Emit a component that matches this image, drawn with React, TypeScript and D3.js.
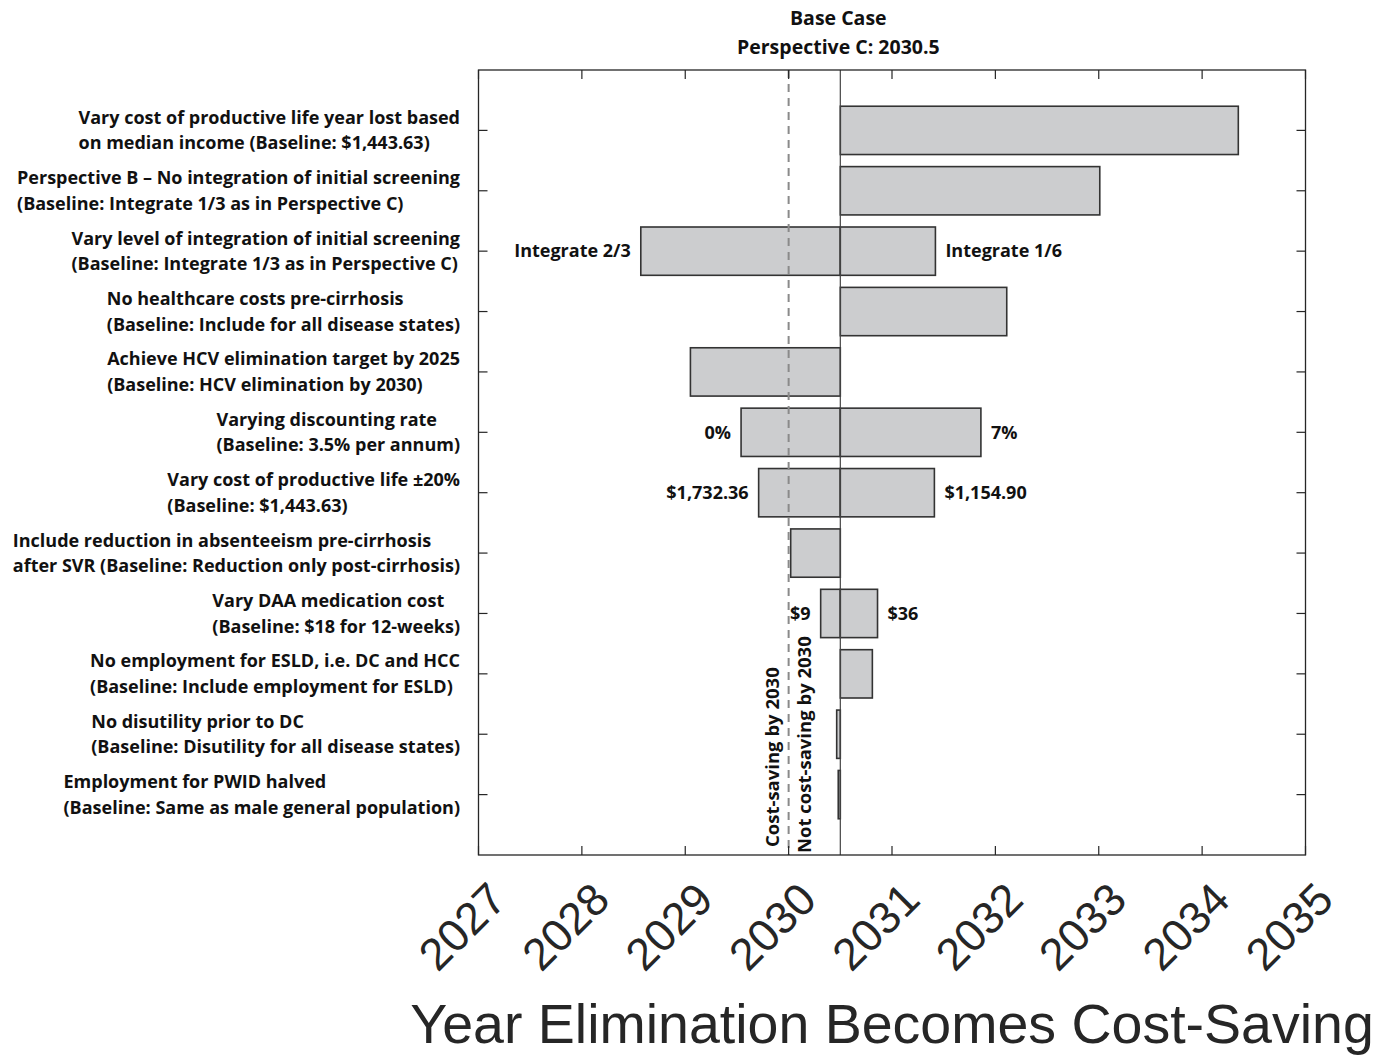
import React, { useEffect, useRef } from "react";
import * as d3 from "d3";

const categories: string[][] = [
  ["Vary cost of productive life year lost based", "on median income (Baseline: $1,443.63)"],
  ["Perspective B \u2013 No integration of initial screening", "(Baseline: Integrate 1/3 as in Perspective C)"],
  ["Vary level of integration of initial screening", "(Baseline: Integrate 1/3 as in Perspective C)"],
  ["No healthcare costs pre-cirrhosis", "(Baseline: Include for all disease states)"],
  ["Achieve HCV elimination target by 2025", "(Baseline: HCV elimination by 2030)"],
  ["Varying discounting rate", "(Baseline: 3.5% per annum)"],
  ["Vary cost of productive life \u00b120%", "(Baseline: $1,443.63)"],
  ["Include reduction in absenteeism pre-cirrhosis", "after SVR (Baseline: Reduction only post-cirrhosis)"],
  ["Vary DAA medication cost", "(Baseline: $18 for 12-weeks)"],
  ["No employment for ESLD, i.e. DC and HCC", "(Baseline: Include employment for ESLD)"],
  ["No disutility prior to DC", "(Baseline: Disutility for all disease states)"],
  ["Employment for PWID halved", "(Baseline: Same as male general population)"],
];

const baseCase = 2030.5;
const costSavingYear = 2030;
const lowValues: (number | null)[] = [null, null, 2028.57, null, 2029.05, 2029.54, 2029.71, 2030.02, 2030.31, null, 2030.465, 2030.48];
const highValues: (number | null)[] = [2034.35, 2033.01, 2031.42, 2032.11, null, 2031.86, 2031.41, null, 2030.86, 2030.81, null, null];
const lowLabels = ["", "", "Integrate 2/3", "", "", "0%", "$1,732.36", "", "$9", "", "", ""];
const highLabels = ["", "", "Integrate 1/6", "", "", "7%", "$1,154.90", "", "$36", "", "", ""];
const xTicks = [2027, 2028, 2029, 2030, 2031, 2032, 2033, 2034, 2035];

const W = 1393, H = 1055;
const L = 478.5, R = 1305.5, T = 70, B = 855;
const labelFont = "'Open Sans', 'Noto Sans', sans-serif";
const labelSize = 18;

export default function App() {
  const ref = useRef<SVGSVGElement>(null);
  useEffect(() => {
    document.body.style.margin = "0";
    const svg = d3.select(ref.current);
    svg.selectAll("*").remove();
    const x = d3.scaleLinear().domain([2027, 2035]).range([L, R]);
    const y = d3.scaleLinear().domain([0, 13]).range([T, B]);
    const bh = (y(1) - y(0)) * 0.8;
    const axisColor = "#262626";

    const boldText = (sel: any, size = labelSize) =>
      sel.attr("font-family", labelFont).attr("font-weight", 700).attr("font-size", size).attr("fill", "#111");

    // title
    boldText(svg.append("text").attr("x", x(baseCase) - 2).attr("y", 25).attr("text-anchor", "middle"), 19.5).text("Base Case");
    boldText(svg.append("text").attr("x", x(baseCase) - 2).attr("y", 54).attr("text-anchor", "middle"), 19.5).text("Perspective C: " + baseCase);

    // bars
    const g = svg.append("g");
    categories.forEach((_, i) => {
      const cy = y(i + 1);
      const lo = lowValues[i], hi = highValues[i];
      if (lo !== null) {
        g.append("rect").attr("x", x(lo)).attr("y", cy - bh / 2).attr("width", x(baseCase) - x(lo)).attr("height", bh)
          .attr("fill", "#cccdcf").attr("stroke", "#333").attr("stroke-width", 1.6);
      }
      if (hi !== null) {
        g.append("rect").attr("x", x(baseCase)).attr("y", cy - bh / 2).attr("width", x(hi) - x(baseCase)).attr("height", bh)
          .attr("fill", "#cccdcf").attr("stroke", "#333").attr("stroke-width", 1.6);
      }
      if (lowLabels[i] && lo !== null) {
        boldText(g.append("text").attr("x", x(lo) - 10).attr("y", cy).attr("dy", "0.35em").attr("text-anchor", "end")).text(lowLabels[i]);
      }
      if (highLabels[i] && hi !== null) {
        boldText(g.append("text").attr("x", x(hi) + 10).attr("y", cy).attr("dy", "0.35em").attr("text-anchor", "start")).text(highLabels[i]);
      }
    });

    // base line
    svg.append("line").attr("x1", x(baseCase)).attr("x2", x(baseCase)).attr("y1", T).attr("y2", B)
      .attr("stroke", "#444").attr("stroke-width", 1.2);
    // dashed cost-saving line
    svg.append("line").attr("x1", x(costSavingYear)).attr("x2", x(costSavingYear)).attr("y1", T).attr("y2", B)
      .attr("stroke", "#8a8a8a").attr("stroke-width", 2).attr("stroke-dasharray", "8,6");

    // rotated annotations
    boldText(svg.append("text").attr("transform", `translate(${x(costSavingYear) - 10},847) rotate(-90)`), 18.5).text("Cost-saving by " + costSavingYear);
    boldText(svg.append("text").attr("transform", `translate(${x(costSavingYear) + 22},853) rotate(-90)`), 18.5).text("Not cost-saving by " + costSavingYear);

    // frame
    svg.append("rect").attr("x", L).attr("y", T).attr("width", R - L).attr("height", B - T)
      .attr("fill", "none").attr("stroke", axisColor).attr("stroke-width", 1.3);

    // ticks
    const tk = 9;
    xTicks.forEach((t) => {
      svg.append("line").attr("x1", x(t)).attr("x2", x(t)).attr("y1", B).attr("y2", B - tk).attr("stroke", axisColor).attr("stroke-width", 1.2);
      svg.append("line").attr("x1", x(t)).attr("x2", x(t)).attr("y1", T).attr("y2", T + tk).attr("stroke", axisColor).attr("stroke-width", 1.2);
      svg.append("text").attr("transform", `translate(${x(t) + 19},${B + 36}) rotate(-45)`)
        .attr("text-anchor", "end").attr("dy", "0.35em")
        .attr("font-family", "'Liberation Sans', Arial, sans-serif").attr("font-size", 45).attr("fill", axisColor).text(String(t));
    });
    categories.forEach((_, i) => {
      const cy = y(i + 1);
      svg.append("line").attr("x1", L).attr("x2", L + tk).attr("y1", cy).attr("y2", cy).attr("stroke", axisColor).attr("stroke-width", 1.2);
      svg.append("line").attr("x1", R).attr("x2", R - tk).attr("y1", cy).attr("y2", cy).attr("stroke", axisColor).attr("stroke-width", 1.2);
    });

    // y labels: left-aligned block, right-aligned to axis
    categories.forEach((lines, i) => {
      const cy = y(i + 1);
      const texts = lines.map((ln, j) =>
        boldText(svg.append("text").attr("y", cy + (j - (lines.length - 1) / 2) * 25.5).attr("dy", "0.35em")).text(ln)
      );
      const maxW = d3.max(texts, (t: any) => (t.node() as SVGTextElement).getComputedTextLength()) || 0;
      texts.forEach((t: any) => t.attr("x", 460 - maxW));
    });

    // x axis title
    svg.append("text").attr("x", (L + R) / 2).attr("y", 1043).attr("text-anchor", "middle")
      .attr("font-family", "'Liberation Sans', Arial, sans-serif").attr("font-size", 55.5).attr("fill", axisColor)
      .text("Year Elimination Becomes Cost-Saving");
  }, []);
  return <svg ref={ref} width={W} height={H} style={{ display: "block", background: "#fff" }} />;
}
